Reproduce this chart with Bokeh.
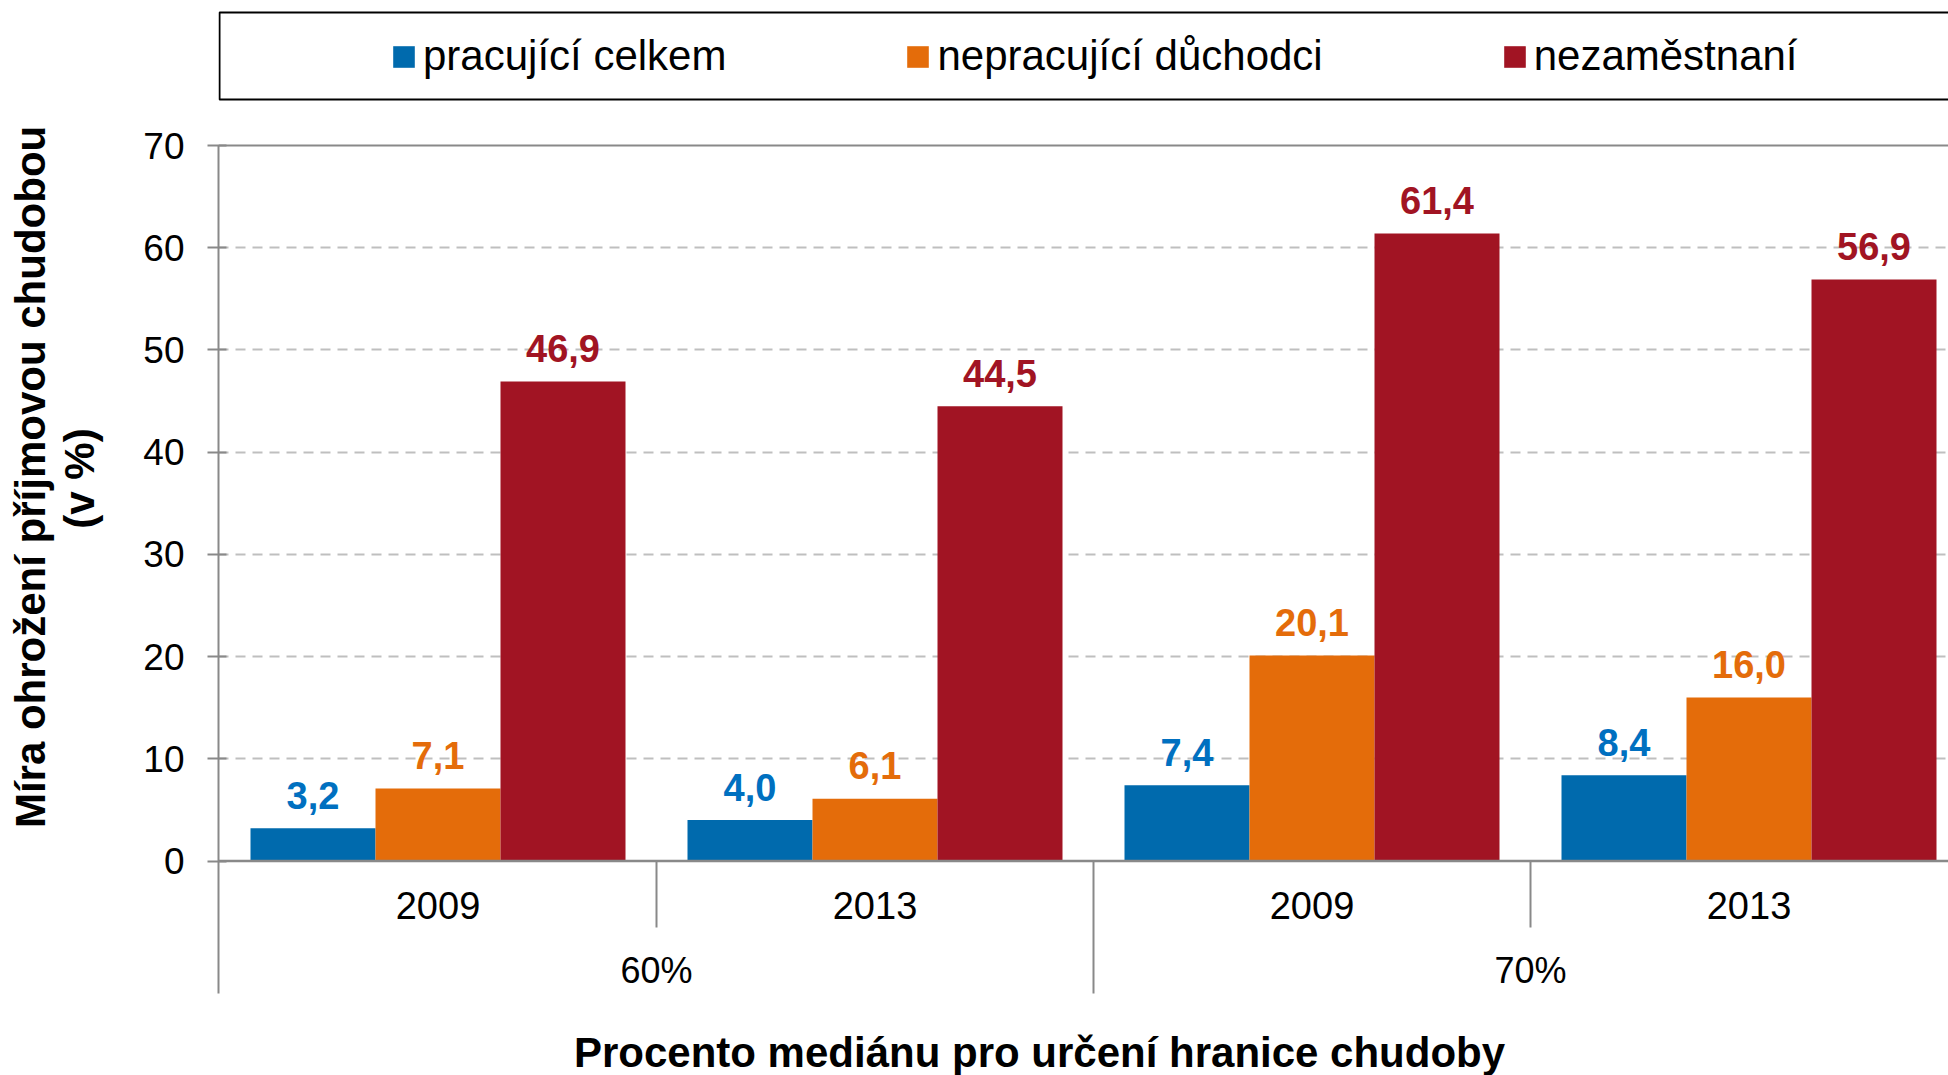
import numpy as np
from bokeh.plotting import figure
from bokeh.models import Range1d, FixedTicker, Legend, LegendItem, Span, Title
from bokeh.core.properties import value
from bokeh.embed import file_html
from bokeh.resources import INLINE

# ---------------- data ----------------
groups = ["60%", "70%"]
group_of_period = ["60%", "60%", "70%", "70%"]
years = ["2009", "2013", "2009", "2013"]
series_names = ["pracující celkem", "nepracující důchodci", "nezaměstnaní"]
pracujici_celkem = [3.2, 4.0, 7.4, 8.4]
nepracujici_duchodci = [7.1, 6.1, 20.1, 16.0]
nezamestnani = [46.9, 44.5, 61.4, 56.9]
y_ticks = [0, 10, 20, 30, 40, 50, 60, 70]
y_title = ["Míra ohrožení příjmovou chudobou", "(v %)"]
x_title = "Procento mediánu pro určení hranice chudoby"

series_values = [pracujici_celkem, nepracujici_duchodci, nezamestnani]
bar_colors = ["#006AAD", "#E46C0A", "#A11423"]
label_colors = ["#0070C0", "#E46C0A", "#A11423"]

# ---------------- layout (page pixels) ----------------
FONT = "Liberation Sans"
W, H = 1948, 1075
FRAME_LEFT, FRAME_TOP = 218, 10
AXIS_BOTTOM = 993          # where y axis / long separators end
SHORT_SEP_BOTTOM = 927
X0 = 219.0                 # pixel x of category start
PX_CAT = 437.0             # pixels per category
Y0, Y70 = 860.5, 145.0
PPU = (Y0 - Y70) / 70.0
BASE_FIX = 0.37            # alphabetic-baseline correction (em)

def xd(px):
    return (px - X0) / PX_CAT

def yd(py):
    return (Y0 - py) / PPU

x_start, x_end = xd(FRAME_LEFT), xd(W)
y_start, y_end = yd(H), yd(FRAME_TOP)

p = figure(width=W, height=H, output_backend="svg", toolbar_location=None,
           x_range=Range1d(x_start, x_end), y_range=Range1d(y_start, y_end),
           x_axis_location=None, min_border_left=FRAME_LEFT,
           min_border_right=0, min_border_top=FRAME_TOP, min_border_bottom=0)
p.outline_line_color = None
p.background_fill_color = "white"
p.border_fill_color = "white"

# y axis
ax = p.yaxis[0]
ax.ticker = FixedTicker(ticks=y_ticks)
ax.bounds = (yd(AXIS_BOTTOM), y_ticks[-1])
ax.axis_line_color = "#898989"
ax.axis_line_width = 2
ax.major_tick_line_color = "#898989"
ax.major_tick_line_width = 2
ax.major_tick_out = 11
ax.major_tick_in = 8
ax.minor_tick_line_color = None
ax.major_label_text_font = FONT
ax.major_label_text_font_size = "37px"
ax.major_label_text_color = "black"
ax.major_label_standoff = 23
ax.axis_label = " "
ax.axis_label_text_font_size = "1px"
ax.axis_label_standoff = 34

# y axis titles (two lines)
fs_title = 42
w1 = 16.724 * fs_title
w2 = 2.389 * fs_title
p.add_layout(Title(text=y_title[1], align="right", offset=478 - w2 / 2 - FRAME_TOP,
                   standoff=0, vertical_align="bottom", text_font=FONT,
                   text_font_size=f"{fs_title}px", text_font_style="bold",
                   text_color="black"), "left")
p.add_layout(Title(text=y_title[0], align="right", offset=476.5 - w1 / 2 - FRAME_TOP,
                   standoff=0, vertical_align="bottom", text_font=FONT,
                   text_font_size=f"{fs_title}px", text_font_style="bold",
                   text_color="black"), "left")

p.xgrid.grid_line_color = None
p.ygrid.ticker = FixedTicker(ticks=y_ticks[1:-1])
p.ygrid.grid_line_color = "#BFBFBF"
p.ygrid.grid_line_width = 2
p.ygrid.grid_line_dash = "10 7"

p.add_layout(Span(location=y_ticks[-1], dimension="width", line_color="#898989", line_width=2))

# bars + value labels
n = len(years)
centers = np.arange(n) + 0.5
bar_w = 125.0 / PX_CAT
renderers = []
for k, (vals, col, lcol) in enumerate(zip(series_values, bar_colors, label_colors)):
    xs = centers + (k - 1) * bar_w
    r = p.vbar(x=xs, top=vals, bottom=0, width=bar_w, fill_color=col, line_color=None)
    renderers.append(r)
    p.text(x=xs, y=vals, text=[f"{v:.1f}".replace(".", ",") for v in vals],
           text_font=value(FONT), text_font_size="38px", text_font_style="bold",
           text_color=lcol, text_align="center", text_baseline="alphabetic",
           y_offset=-19 - BASE_FIX * 38)

# x axis line at 0
p.add_layout(Span(location=0, dimension="width", line_color="#898989", line_width=2.5))

# separators
sep_x = np.arange(1, n)
sep_bottom = [yd(SHORT_SEP_BOTTOM) if group_of_period[i - 1] == group_of_period[i] else yd(AXIS_BOTTOM)
              for i in sep_x]
p.segment(x0=sep_x, y0=[0] * len(sep_x), x1=sep_x, y1=sep_bottom, line_color="#898989", line_width=2)

# category labels
p.text(x=centers, y=[0] * n, text=years, text_font=value(FONT), text_font_size="38px",
       text_color="black", text_align="center", text_baseline="alphabetic",
       y_offset=(919 - Y0) - BASE_FIX * 38)
gcenters = [float(np.mean([c for c, g in zip(centers, group_of_period) if g == gg])) for gg in groups]
p.text(x=gcenters, y=[0] * len(groups), text=groups, text_font=value(FONT), text_font_size="36px",
       text_color="black", text_align="center", text_baseline="alphabetic",
       y_offset=(983 - Y0) - BASE_FIX * 36)

# x axis title
p.text(x=[xd(1039)], y=[0], text=[x_title], text_font=value(FONT), text_font_size=f"{fs_title}px",
       text_font_style="bold", text_color="black", text_align="center", text_baseline="alphabetic",
       y_offset=(1068 - Y0) - BASE_FIX * fs_title)

# legend box
p.quad(left=xd(219), right=x_end + 1, top=yd(12), bottom=yd(99), fill_color="white",
       line_color="black", line_width=2)

legend = Legend(items=[LegendItem(label=nm, renderers=[r]) for nm, r in zip(series_names, renderers)],
                orientation="horizontal", location=(390 - FRAME_LEFT, H - 81),
                padding=0, margin=0, spacing=178, glyph_width=27, glyph_height=27,
                label_standoff=6, label_height=50, label_text_font=FONT,
                label_text_font_size="42px", label_text_color="black",
                border_line_color=None, background_fill_alpha=0)
p.add_layout(legend)

open("out.html", "w").write(file_html(p, INLINE))
